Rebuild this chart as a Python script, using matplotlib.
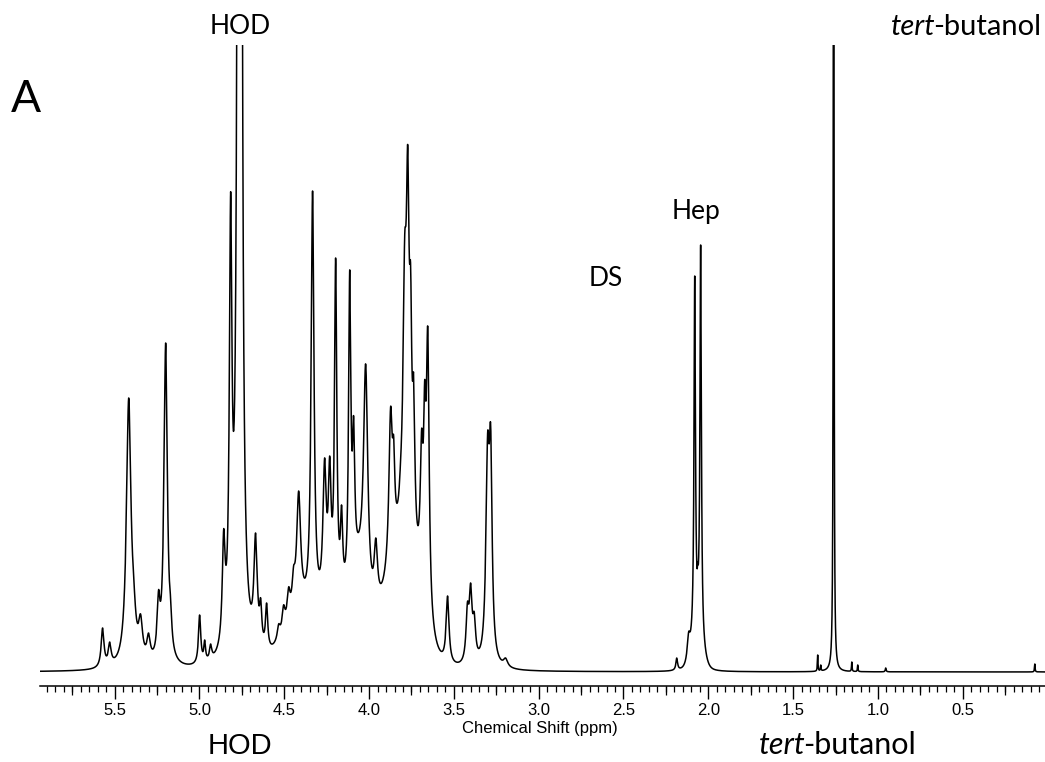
import numpy as np
import matplotlib
matplotlib.use("Agg")
import matplotlib.pyplot as plt
from matplotlib.ticker import MultipleLocator, FormatStrFormatter, NullLocator

# 1H NMR spectrum, built from a peak table (shift, visible height, half width)
peak_ppm = [5.571, 5.529, 5.417, 5.388, 5.347, 5.300, 5.241, 5.199, 5.170,
            4.999, 4.969, 4.934, 4.857, 4.816, 4.763, 4.669, 4.639, 4.604,
            4.533, 4.504, 4.474, 4.445, 4.415, 4.333, 4.262, 4.232, 4.197,
            4.162, 4.114, 4.091, 4.020, 4.002, 3.960, 3.873, 3.855, 3.814,
            3.790, 3.772, 3.755, 3.737, 3.690, 3.672, 3.654, 3.537, 3.420,
            3.401, 3.380, 3.301, 3.283, 3.195,
            2.186, 2.116, 2.080, 2.062, 2.045,
            1.355, 1.337, 1.261, 1.154, 1.119, 0.954, 0.075]
peak_top = [44, 30, 274, 96, 58, 39, 82, 329, 74,
            57, 32, 28, 143, 480, 12000, 139, 74, 69,
            48, 67, 85, 106, 181, 481, 214, 216, 414,
            167, 402, 256, 308, 141, 134, 265, 236, 212,
            436, 527, 407, 297, 243, 292, 345, 76, 70,
            89, 60, 239, 247, 14,
            14, 40, 396, 110, 427,
            17, 7, 1400, 10, 7, 4, 8]
peak_hw = [0.010, 0.010, 0.016, 0.015, 0.014, 0.012, 0.010, 0.012, 0.008,
           0.008, 0.006, 0.008, 0.010, 0.009, 0.004, 0.012, 0.008, 0.008,
           0.010, 0.010, 0.010, 0.010, 0.014, 0.010, 0.012, 0.010, 0.008,
           0.008, 0.008, 0.008, 0.015, 0.010, 0.012, 0.012, 0.008, 0.010,
           0.012, 0.010, 0.008, 0.008, 0.010, 0.008, 0.010, 0.010, 0.010,
           0.010, 0.010, 0.012, 0.010, 0.015,
           0.006, 0.010, 0.005, 0.003, 0.005,
           0.002, 0.002, 0.002, 0.002, 0.002, 0.003, 0.002]

# broad underlying envelopes (shift, amplitude, half width), gaussian
broad_ppm = [4.43, 4.15, 4.06, 3.79, 2.065]
broad_amp = [28, 55, 40, 110, 35]
broad_hw = [0.09, 0.25, 0.04, 0.10, 0.035]

major_ticks = [5.5, 5.0, 4.5, 4.0, 3.5, 3.0, 2.5, 2.0, 1.5, 1.0, 0.5]
mid_ticks = [5.75, 5.25, 4.75, 4.25, 3.75, 3.25, 2.75, 2.25, 1.75, 1.25, 0.75, 0.25]


def lorentz(x, c, w):
    return 1.0 / (1.0 + ((x - c) / w) ** 2)


def gauss(x, c, w):
    return np.exp(-np.log(2) * ((x - c) / w) ** 2)


pc = np.array(peak_ppm)
pt = np.array(peak_top, dtype=float)
pw = np.array(peak_hw)

# background level at each peak centre
bg = sum(a * gauss(pc, c, w) for c, a, w in zip(broad_ppm, broad_amp, broad_hw))

# scale line amplitudes so the summed curve reaches the listed heights
M = lorentz(pc[:, None], pc[None, :], pw[None, :])
amp = pt.copy()
for _ in range(300):
    tot = bg + M @ amp
    amp = amp * (pt / tot) ** 0.7

ppm = np.linspace(0.0, 6.0, 60001)
spec = np.zeros_like(ppm)
for c, a, w in zip(pc, amp, pw):
    spec += a * lorentz(ppm, c, w)
for c, a, w in zip(broad_ppm, broad_amp, broad_hw):
    spec += a * gauss(ppm, c, w)

fig = plt.figure(figsize=(10.45, 7.62), dpi=100)
ax = fig.add_axes([40 / 1045, 76 / 762, 1005 / 1045, 641 / 762])
ax.plot(ppm, spec, color="black", lw=1.1)
ax.set_xlim(5.94, 0.015)
ax.set_ylim(-14, 627)

for s in ["top", "left", "right"]:
    ax.spines[s].set_visible(False)
ax.spines["bottom"].set_linewidth(1.1)
ax.set_yticks([])
ax.set_xticks(major_ticks)
ax.xaxis.set_major_formatter(FormatStrFormatter("%.1f"))
ax.xaxis.set_minor_locator(MultipleLocator(0.05))
ax.tick_params(axis="x", which="major", direction="out", length=9, width=1.0,
               pad=3, labelsize=12)
ax.tick_params(axis="x", which="minor", direction="out", length=4.5, width=0.9)
for lab in ax.get_xticklabels():
    lab.set_fontfamily("Liberation Sans")

sec = ax.secondary_xaxis("bottom")
sec.set_xticks(mid_ticks)
sec.xaxis.set_minor_locator(NullLocator())
sec.tick_params(length=6.5, width=0.9, labelbottom=False)
sec.spines["bottom"].set_visible(False)

fig.text(540 / 1045, 1 - 728 / 762, "Chemical Shift (ppm)", fontsize=12,
         family="Liberation Sans", ha="center", va="center")

lato = "Lato"
fig.text(26 / 1045, 1 - 100 / 762, "A", fontsize=32, family=lato,
         ha="center", va="center")
fig.text(240 / 1045, 1 - 27 / 762, "HOD", fontsize=19, family=lato,
         ha="center", va="center")
fig.text(936 / 1045, 1 - 27 / 762, "tert", fontsize=21, family=lato,
         style="italic", ha="right", va="center")
fig.text(933 / 1045, 1 - 27 / 762, "-butanol", fontsize=21, family=lato,
         ha="left", va="center")
ax.text(2.074, 460, "Hep", fontsize=19, family=lato, ha="center", va="center")
ax.text(2.605, 394, "DS", fontsize=19, family=lato, ha="center", va="center")

fig.text(240 / 1045, 1 - 746 / 762, "HOD", fontsize=21, family="Liberation Sans",
         ha="center", va="center")
fig.text(806 / 1045, 1 - 745 / 762, "tert", fontsize=22, family=lato,
         style="italic", ha="right", va="center")
fig.text(803 / 1045, 1 - 745 / 762, "-butanol", fontsize=22, family=lato,
         ha="left", va="center")

fig.savefig("out.png", dpi=100)
